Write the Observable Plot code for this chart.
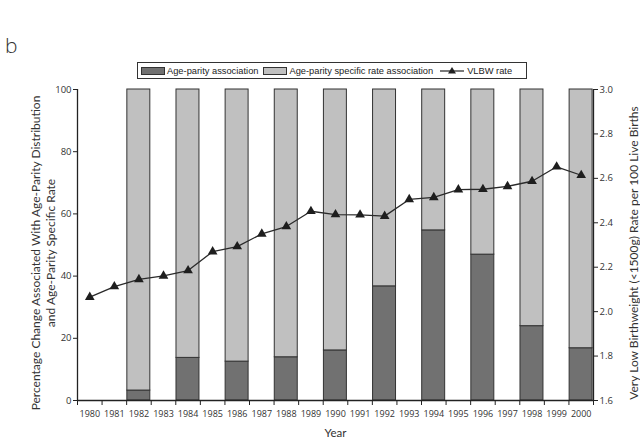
<!DOCTYPE html>
<html>
<head>
<meta charset="utf-8">
<script src="https://cdn.jsdelivr.net/npm/d3@7"></script>
<script src="https://cdn.jsdelivr.net/npm/@observablehq/plot@0.6"></script>
<style>
  html, body { margin: 0; padding: 0; background: #fff; }
  #wrap { position: relative; width: 640px; height: 442px; overflow: hidden; }
  #panel { position: absolute; left: 5px; top: 31px; font: 300 21px "Open Sans", sans-serif; color: #333; }
  #legend { position: absolute; left: 137px; top: 62px; width: 388px; height: 15px; border: 1px solid #333;
    display: flex; align-items: center; font: 9.3px "Liberation Sans", Arial, sans-serif; color: #222; white-space: nowrap; }
  .sw { display: inline-block; width: 22px; height: 6px; border: 1px solid #333; margin: 0 2px 0 3px; }
  .item { display: flex; align-items: center; margin-right: 0px; }
  svg { position: absolute; left: 0; top: 0; }
</style>
</head>
<body>
<div id="wrap">
  <div id="panel">b</div>
  <div id="legend">
    <span class="item"><span class="sw" style="background:#717171"></span>Age-parity association</span>
    <span class="item"><span class="sw" style="background:#c0c0c0;margin-left:5px"></span>Age-parity specific rate association</span>
    <span class="item"><svg width="26" height="9" style="position:static;margin:0 2px 0 6px"><line x1="1" y1="5" x2="25" y2="5" stroke="#222" stroke-width="1.2"/><path d="M13,1 L17,7.5 L9,7.5 Z" fill="#222"/></svg>VLBW rate</span>
  </div>
</div>
<script>
const years = [1980,1981,1982,1983,1984,1985,1986,1987,1988,1989,1990,1991,1992,1993,1994,1995,1996,1997,1998,1999,2000];
const barYears = [1982,1984,1986,1988,1990,1992,1994,1996,1998,2000];
const darkValues = [3.2,13.7,12.5,13.9,16.1,36.7,54.7,46.9,23.9,16.8];
const lightValues = [96.8,86.3,87.5,86.1,83.9,63.3,45.3,53.1,76.1,83.2];
const rateValues = [2.065,2.113,2.145,2.161,2.185,2.270,2.293,2.350,2.383,2.452,2.437,2.436,2.430,2.505,2.514,2.549,2.551,2.564,2.587,2.652,2.614];
const leftTicks = [0,20,40,60,80,100];
const rightTicks = [1.6,1.8,2.0,2.2,2.4,2.6,2.8,3.0];
const rateMin = 1.6, rateMax = 3.0;

const bars = barYears.map((year, i) => ({year, dark: darkValues[i], light: lightValues[i]}));
const rates = years.map((year, i) => ({year, rate: rateValues[i]}));
const toY = r => (r - rateMin) / (rateMax - rateMin) * 100;
const fromY = y => (rateMin + y * (rateMax - rateMin) / 100).toFixed(1);
const bounds = years.map(y => y - 0.5).concat([years[years.length - 1] + 0.5]);

const chart = Plot.plot({
  width: 640,
  height: 442,
  marginLeft: 77,
  marginRight: 47,
  marginTop: 89,
  marginBottom: 42,
  style: {fontFamily: "Lato, sans-serif", color: "#333", background: "transparent"},
  x: {type: "linear", domain: [years[0] - 0.5, years[years.length - 1] + 0.5]},
  y: {domain: [0, 100]},
  marks: [
    Plot.rectY(bars, {x1: d => d.year - 0.5, x2: d => d.year + 0.5, y1: 0, y2: "dark",
      fill: "#717171", stroke: "#333", strokeWidth: 1, insetLeft: 0.7, insetRight: 0.9}),
    Plot.rectY(bars, {x1: d => d.year - 0.5, x2: d => d.year + 0.5, y1: "dark", y2: d => d.dark + d.light,
      fill: "#c0c0c0", stroke: "#333", strokeWidth: 1, insetLeft: 0.7, insetRight: 0.9}),
    Plot.line(rates, {x: "year", y: d => toY(d.rate), stroke: "#2a2a2a", strokeWidth: 1.3}),
    Plot.dot(rates, {x: "year", y: d => toY(d.rate), symbol: "triangle", r: 3.6, fill: "#1e1e1e", stroke: "none"}),
    Plot.ruleX([years[0] - 0.5], {stroke: "#222", strokeWidth: 1.3}),
    Plot.ruleX([years[years.length - 1] + 0.5], {stroke: "#222", strokeWidth: 1.3}),
    Plot.ruleY([0], {stroke: "#222", strokeWidth: 1.3}),
    Plot.axisY(leftTicks, {anchor: "left", tickSize: 4, tickPadding: 2, label: null, fontSize: 9.5,
      fontFamily: "Open Sans, sans-serif", stroke: "#222"}),
    Plot.axisY(rightTicks.map(toY), {anchor: "right", tickSize: 4, tickPadding: 2, label: null, fontSize: 9.5,
      fontFamily: "Open Sans, sans-serif", tickFormat: fromY, stroke: "#222"}),
    Plot.axisX(bounds, {anchor: "bottom", tickSize: 5, tickFormat: () => "", label: null, stroke: "#222"}),
    Plot.axisX(years, {anchor: "bottom", tickSize: 0, tickPadding: 10, tickFormat: d => String(d), label: null,
      fontSize: 9, fontFamily: "Open Sans, sans-serif"}),
    Plot.text(["Year"], {frameAnchor: "bottom", dy: 33, lineAnchor: "middle", fontSize: 11.5, fill: "#333"}),
    Plot.text(["Percentage Change Associated With Age-Parity Distribution\nand Age-Parity Specific Rate"],
      {frameAnchor: "left", textAnchor: "middle", rotate: -90, dx: -35, dy: 8, lineAnchor: "middle", lineHeight: 1.3, fontSize: 12, fill: "#333"}),
    Plot.text(["Very Low Birthweight (<1500g) Rate per 100 Live Births"],
      {frameAnchor: "right", textAnchor: "middle", rotate: -90, dx: 41, dy: 8, lineAnchor: "middle", fontSize: 12, fill: "#333"})
  ]
});
document.getElementById("wrap").appendChild(chart);
</script>
</body>
</html>
